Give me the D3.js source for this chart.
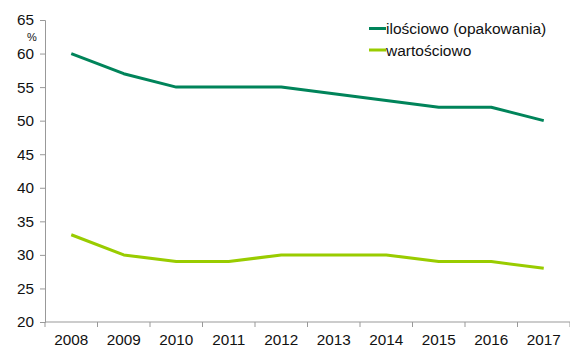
<!DOCTYPE html>
<html>
<head>
<meta charset="utf-8">
<script src="https://cdn.jsdelivr.net/npm/d3@7"></script>
<style>
  html, body { margin: 0; padding: 0; background: #fff; }
  svg { display: block; font-family: "Liberation Sans", Arial, sans-serif; }
</style>
</head>
<body>
<svg id="chart" width="570" height="347"></svg>
<script>
const years = ["2008","2009","2010","2011","2012","2013","2014","2015","2016","2017"];
const ilosciowo = [60, 57, 55, 55, 55, 54, 53, 52, 52, 50];
const wartosciowo = [33, 30, 29, 29, 30, 30, 30, 29, 29, 28];
const yTicks = [20, 25, 30, 35, 40, 45, 50, 55, 60, 65];
const seriesNames = ["ilościowo (opakowania)", "wartościowo"];
const seriesColors = ["#00845A", "#99CC00"];

const svg = d3.select("#chart");
const plotLeft = 45, plotRight = 570, plotTop = 20, plotBottom = 322;

const x = d3.scaleBand().domain(years).range([plotLeft, plotRight]);
const y = d3.scaleLinear().domain([20, 65]).range([plotBottom, plotTop]);

const axisColor = "#999";

// y axis
const yAxis = svg.append("g")
  .attr("transform", `translate(${plotLeft},0)`)
  .call(d3.axisLeft(y).tickValues(yTicks).tickSize(5).tickPadding(6));
yAxis.select(".domain").attr("stroke", axisColor);
yAxis.selectAll(".tick line").attr("stroke", axisColor);
yAxis.selectAll(".tick text").attr("font-size", 15.3).attr("fill", "#111")
  .attr("font-family", "Liberation Sans, Arial, sans-serif");

// x axis with ticks at band boundaries
const xAxis = svg.append("g")
  .attr("transform", `translate(0,${plotBottom})`);
xAxis.append("line").attr("x1", plotLeft).attr("x2", plotRight)
  .attr("stroke", axisColor);
const bounds = years.map(d => x(d)).concat([plotRight]);
xAxis.selectAll("line.tk").data(bounds).join("line")
  .attr("class", "tk")
  .attr("x1", d => d).attr("x2", d => d)
  .attr("y1", 0).attr("y2", 5)
  .attr("stroke", axisColor);
xAxis.selectAll("text").data(years).join("text")
  .attr("x", d => x(d) + x.bandwidth() / 2)
  .attr("y", 23)
  .attr("text-anchor", "middle")
  .attr("font-size", 15.3)
  .attr("fill", "#111")
  .text(d => d);

// unit label
svg.append("text").attr("x", 32).attr("y", 41)
  .attr("text-anchor", "middle").attr("font-size", 11).attr("fill", "#111")
  .text("%");

// lines
const line = d3.line()
  .x((d, i) => x(years[i]) + x.bandwidth() / 2)
  .y(d => y(d));

[ilosciowo, wartosciowo].forEach((vals, k) => {
  svg.append("path")
    .datum(vals)
    .attr("fill", "none")
    .attr("stroke", seriesColors[k])
    .attr("stroke-width", 3)
    .attr("stroke-linejoin", "round")
    .attr("d", line);
});

// legend
const legend = svg.append("g");
seriesNames.forEach((name, k) => {
  const ly = 28.5 + k * 21.5;
  legend.append("line")
    .attr("x1", 369).attr("x2", 386)
    .attr("y1", ly).attr("y2", ly)
    .attr("stroke", seriesColors[k]).attr("stroke-width", 3);
  legend.append("text")
    .attr("x", 386).attr("y", ly + 5.5)
    .attr("font-size", 15.5).attr("fill", "#111")
    .text(name);
});
</script>
</body>
</html>
